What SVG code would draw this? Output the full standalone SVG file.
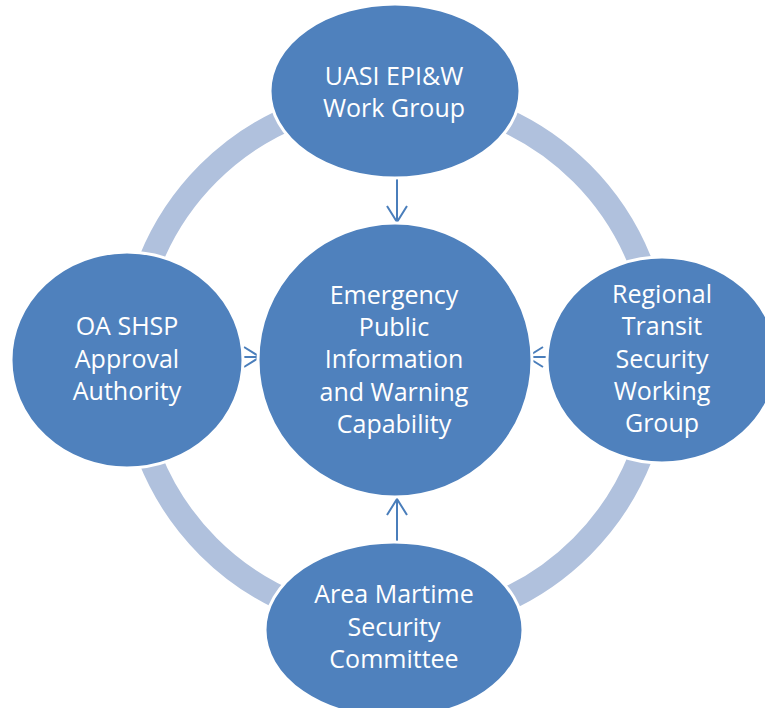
<svg xmlns="http://www.w3.org/2000/svg" width="765" height="708" viewBox="0 0 765 708">
<defs>
<style>
.node{fill:#4F81BD;stroke:#FFFFFF;stroke-width:3}
.lbl{font-family:"Open Sans","Noto Sans","Liberation Sans",sans-serif;font-size:25px;fill:#FFFFFF;text-anchor:middle}
.ring{fill:none;stroke:#B0C1DD;stroke-width:24}
.conn{stroke:#4A7EBB;stroke-width:2;fill:none}
</style>
<marker id="arr" viewBox="0 0 18 24" refX="17" refY="12" markerWidth="18" markerHeight="24" markerUnits="userSpaceOnUse" orient="auto">
<path d="M1,2 L17,12 L1,22" fill="none" stroke="#4A7EBB" stroke-width="2"/>
</marker>
</defs>
<rect width="765" height="708" fill="#FFFFFF"/>
<circle class="ring" cx="395" cy="360" r="264"/>
<g id="connectors">
<line class="conn" x1="397" y1="179" x2="397" y2="222" marker-end="url(#arr)"/>
<line class="conn" x1="397" y1="543" x2="397" y2="499" marker-end="url(#arr)"/>
<line class="conn" x1="242" y1="357" x2="260" y2="357" marker-end="url(#arr)"/>
<line class="conn" x1="548" y1="357" x2="527" y2="357" marker-end="url(#arr)"/>
</g>
<g id="center">
<circle class="node" cx="395" cy="360" r="137"/>
<text class="lbl" x="394" y="304">Emergency<tspan x="394" dy="32.2">Public</tspan><tspan x="394" dy="32.2">Information</tspan><tspan x="394" dy="32.2">and Warning</tspan><tspan x="394" dy="32.2">Capability</tspan></text>
</g>
<g id="top">
<ellipse class="node" cx="395" cy="91" rx="125" ry="87"/>
<text class="lbl" x="394" y="85">UASI EPI&amp;W<tspan x="394" dy="32.2">Work Group</tspan></text>
</g>
<g id="left">
<ellipse class="node" cx="127" cy="360" rx="116" ry="108"/>
<text class="lbl" x="127" y="335">OA SHSP<tspan x="127" dy="32.5">Approval</tspan><tspan x="127" dy="32.5">Authority</tspan></text>
</g>
<g id="right">
<ellipse class="node" cx="662" cy="360" rx="115" ry="103"/>
<text class="lbl" x="662" y="303">Regional<tspan x="662" dy="32.3">Transit</tspan><tspan x="662" dy="32.3">Security</tspan><tspan x="662" dy="32.3">Working</tspan><tspan x="662" dy="32.3">Group</tspan></text>
</g>
<g id="bottom">
<ellipse class="node" cx="394" cy="630" rx="129" ry="88"/>
<text class="lbl" x="394" y="603">Area Martime<tspan x="394" dy="32.5">Security</tspan><tspan x="394" dy="32.5">Committee</tspan></text>
</g>
</svg>
